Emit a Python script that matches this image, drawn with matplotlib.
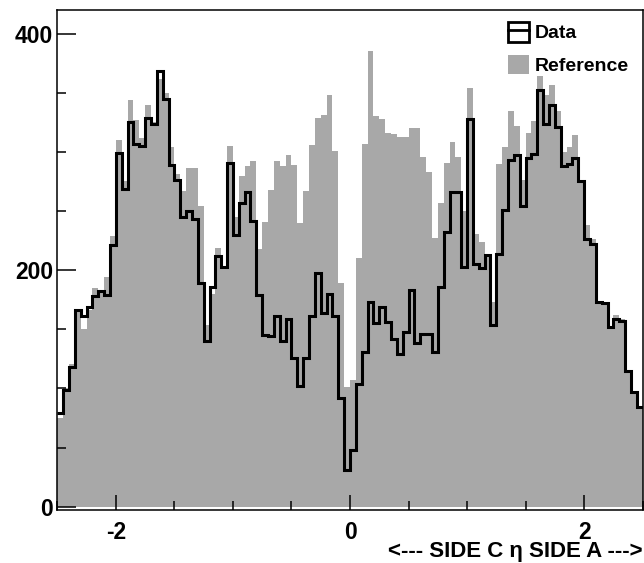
import matplotlib
matplotlib.use("Agg")
import matplotlib.pyplot as plt
import numpy as np
from matplotlib.patches import Patch
from matplotlib.lines import Line2D
from matplotlib.legend_handler import HandlerTuple
from matplotlib.ticker import MultipleLocator

plt.rcParams["font.family"] = ["Liberation Sans", "DejaVu Sans"]
plt.rcParams["axes.unicode_minus"] = False

# ---- data ----
eta_min = -2.5
eta_max = 2.5
n_bins = 100

data_counts = [
    79, 99, 118, 166, 161, 169, 178, 182, 179, 221,
    299, 269, 325, 307, 305, 329, 324, 368, 345, 289,
    276, 245, 250, 243, 189, 140, 186, 212, 203, 291,
    230, 257, 266, 242, 179, 145, 144, 161, 140, 159,
    126, 102, 126, 161, 198, 164, 180, 161, 92, 31,
    48, 104, 131, 173, 155, 169, 156, 142, 129, 148,
    183, 138, 146, 146, 131, 186, 232, 266, 266, 203,
    328, 205, 202, 213, 154, 214, 251, 293, 297, 254,
    295, 298, 352, 324, 340, 321, 288, 290, 295, 275,
    226, 222, 173, 172, 152, 159, 157, 115, 97, 84,
]

reference_counts = [
    75, 100, 121, 166, 150, 166, 185, 182, 194, 229,
    310, 275, 344, 327, 312, 340, 325, 362, 350, 304,
    281, 267, 286, 286, 254, 154, 180, 219, 203, 305,
    245, 280, 288, 292, 218, 241, 268, 292, 288, 297,
    289, 240, 267, 306, 329, 331, 348, 301, 189, 101,
    107, 210, 307, 385, 330, 328, 316, 315, 313, 313,
    320, 320, 296, 283, 227, 257, 291, 308, 296, 250,
    354, 231, 224, 213, 173, 290, 304, 335, 322, 276,
    316, 326, 364, 348, 357, 335, 300, 304, 314, 275,
    238, 226, 173, 172, 152, 162, 159, 116, 96, 83,
]

series_labels = ["Data", "Reference"]
x_title = "<--- SIDE C \u03b7 SIDE A --->"

# ---- figure ----
W, H = 644, 563
fig = plt.figure(figsize=(W / 100, H / 100), dpi=100)
ax_left, ax_right, ax_top, ax_bottom = 57.3, 642.7, 10.0, 510.0
ax = fig.add_axes([ax_left / W, 1 - ax_bottom / H,
                   (ax_right - ax_left) / W, (ax_bottom - ax_top) / H])

edges = np.linspace(eta_min, eta_max, n_bins + 1)
gray = "#a8a8a8"

ax.stairs(reference_counts, edges, fill=True, color=gray, linewidth=0, zorder=1)
ax.stairs(data_counts, edges, baseline=None, color="black", linewidth=2.2, zorder=2)

ax.set_xlim(eta_min, eta_max)
ax.set_ylim(-2.8, 420)

ax.xaxis.set_major_locator(MultipleLocator(2))
ax.xaxis.set_minor_locator(MultipleLocator(0.5))
ax.yaxis.set_major_locator(MultipleLocator(200))
ax.yaxis.set_minor_locator(MultipleLocator(50))

ax.tick_params(axis="both", which="both", direction="in", top=False, right=False,
               width=1.1, colors="black")
ax.tick_params(axis="x", which="major", length=10.8, pad=8)
ax.tick_params(axis="y", which="major", length=13.7, pad=3)
ax.tick_params(axis="both", which="minor", length=6.5)
for lab in ax.get_xticklabels() + ax.get_yticklabels():
    lab.set_fontweight("bold")
    lab.set_fontsize(16.5)

for sp in ax.spines.values():
    sp.set_linewidth(1.1)

# legend
data_handle = (Patch(facecolor="white", edgecolor="black", linewidth=2.0),
               Line2D([], [], color="black", linewidth=2.0))
ref_handle = Patch(facecolor=gray, edgecolor="none")
leg = fig.legend([data_handle, ref_handle], series_labels,
                 handler_map={tuple: HandlerTuple(ndivide=1, pad=0)},
                 loc="upper left", bbox_to_anchor=(508 / W, 1 - 22 / H),
                 frameon=False, borderpad=0, borderaxespad=0,
                 handlelength=1.08, handleheight=1.19, handletextpad=0.3,
                 labelspacing=0.62, prop={"weight": "bold", "size": 14})

# x-axis title, right aligned at the bottom
fig.text(643 / W, 1 - 557.5 / H, x_title, ha="right", va="baseline",
         fontsize=16, fontweight="bold")

fig.savefig("out.png", dpi=100)
